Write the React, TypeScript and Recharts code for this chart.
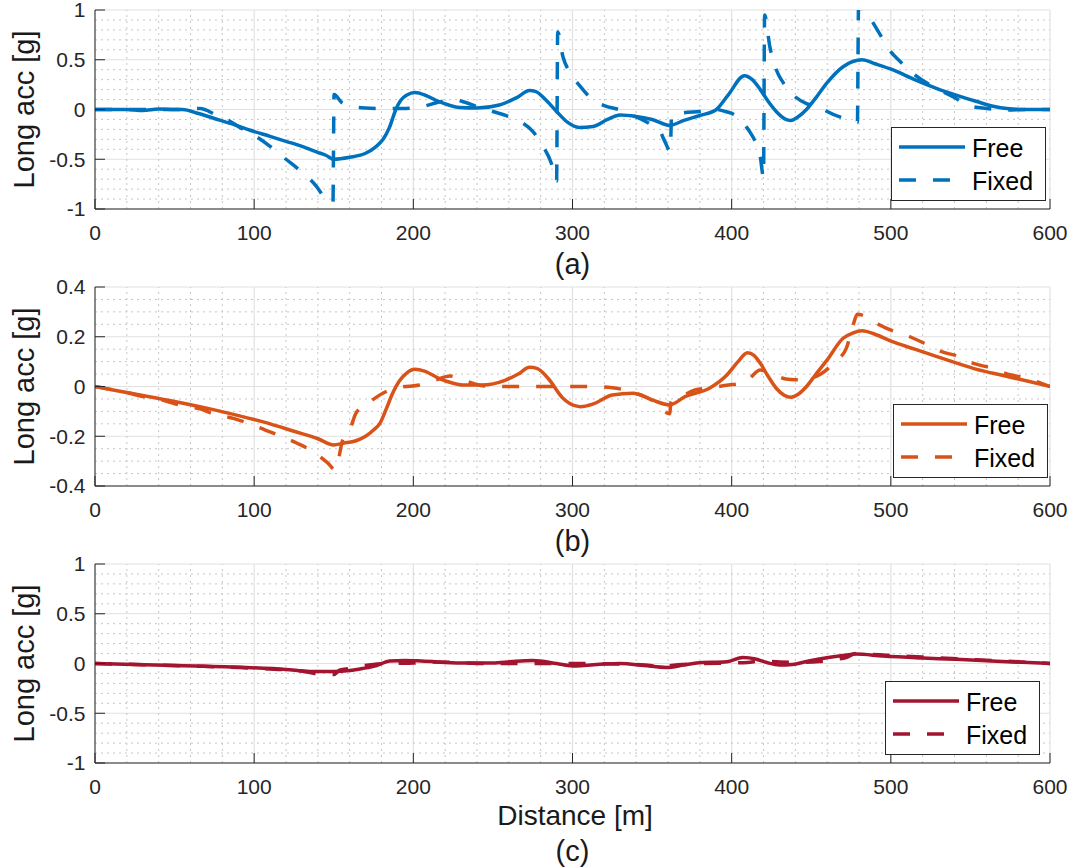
import React from 'react';
import { LineChart, Line, XAxis, YAxis, CartesianGrid, ReferenceLine, Legend } from 'recharts';

// ---------- tick labels / grid values ----------
const distanceTicks = [0, 100, 200, 300, 400, 500, 600];
const accTicksWide = [-1, -0.5, 0, 0.5, 1];
const accTicksNarrow = [-0.4, -0.2, 0, 0.2, 0.4];
const minorDistance = [20, 40, 60, 80, 120, 140, 160, 180, 220, 240, 260, 280, 320, 340, 360, 380, 420, 440, 460, 480, 520, 540, 560, 580];
const minorAccWide = [-0.9, -0.8, -0.7, -0.6, -0.4, -0.3, -0.2, -0.1, 0.1, 0.2, 0.3, 0.4, 0.6, 0.7, 0.8, 0.9];
const minorAccNarrow = [-0.35, -0.3, -0.25, -0.15, -0.1, -0.05, 0.05, 0.1, 0.15, 0.25, 0.3, 0.35];
const panelLabels = ['(a)', '(b)', '(c)'];
const seriesNames = ['Free', 'Fixed'];

// ---------- series: [distance m, long acc g] ----------
const freeA: [number, number][] = [
  [0, 0], [10, 0], [20, 0], [30, -0.01], [40, 0.005], [50, 0], [55, 0], [65, -0.04], [75, -0.09], [85, -0.14],
  [97, -0.206], [110, -0.27], [120, -0.32], [130, -0.37], [135, -0.4], [140, -0.43], [145, -0.46], [150, -0.5],
  [160, -0.48], [170, -0.44], [176, -0.38], [181, -0.3], [185, -0.18], [189, 0], [192, 0.09], [196, 0.146],
  [201, 0.17], [208, 0.14], [216, 0.08], [229, 0.02], [240, 0.015], [254, 0.045], [265, 0.12], [273, 0.19],
  [277, 0.18], [283, 0.1], [290, -0.02], [297, -0.13], [304, -0.18], [313, -0.17], [322, -0.1], [330, -0.055],
  [340, -0.07], [350, -0.1], [361, -0.16], [370, -0.11], [380, -0.06], [390, -0.005], [398, 0.15], [408, 0.34],
  [413, 0.3], [418, 0.2], [423, 0.08], [428, -0.02], [434, -0.1], [437, -0.11], [442, -0.07], [447, 0],
  [453, 0.12], [460, 0.27], [470, 0.43], [482, 0.5], [490, 0.46], [501, 0.4], [515, 0.3], [529, 0.21],
  [540, 0.15], [554, 0.08], [565, 0.03], [573, 0.01], [585, 0], [600, 0],
];
const fixedA: [number, number][] = [
  [0, 0], [20, 0], [40, 0], [55, 0], [66, 0.01], [76, -0.055], [85, -0.12], [93, -0.2], [100, -0.26],
  [110, -0.37], [120, -0.5], [130, -0.63], [139, -0.77], [145, -0.9], [149.5, -0.94], [150.2, 0.15],
  [155, 0.07], [162, 0.03], [170, 0.015], [180, 0.01], [195, 0.01], [206, 0.03], [215, 0.07], [225, 0.1],
  [233, 0.07], [240, 0.03], [250, -0.02], [258, -0.06], [267, -0.12], [275, -0.22], [281.5, -0.37],
  [286.7, -0.54], [290, -0.72], [290.7, 0.78], [294, 0.53], [298, 0.38], [304.5, 0.24], [313, 0.095],
  [320, 0.04], [330, -0.005], [338, -0.06], [346, -0.12], [351, -0.17], [355, -0.22], [358, -0.32],
  [361.5, -0.42], [362.2, -0.06], [369, -0.035], [380, -0.02], [390, 0], [396, -0.02], [402, -0.055],
  [409, -0.17], [412, -0.24], [415, -0.33], [418, -0.48], [420, -0.68], [420.7, 0.95], [424, 0.63],
  [428.8, 0.37], [432, 0.28], [436, 0.19], [447, 0.06], [455, 0.03], [460, -0.02], [474, -0.105],
  [479, -0.13], [479.7, 1.02], [484, 1.0], [487, 0.92], [493, 0.76], [499, 0.6], [506, 0.48], [514, 0.36],
  [529, 0.21], [540, 0.12], [548, 0.045], [560, 0.01], [573, -0.005], [585, 0], [600, 0],
];
const freeB: [number, number][] = [
  [0, 0], [25, -0.03], [50, -0.06], [75, -0.094], [97, -0.128], [110, -0.15], [125, -0.18], [140, -0.21],
  [150, -0.235], [156, -0.228], [164, -0.218], [170, -0.2], [175, -0.175], [179, -0.148], [183, -0.09],
  [187, -0.027], [191, 0.02], [195.6, 0.053], [201, 0.069], [207, 0.062], [216, 0.033], [224, 0.015],
  [231, 0.006], [243, 0.006], [258, 0.026], [266, 0.05], [273, 0.077], [278, 0.072], [285, 0.03],
  [294, -0.047], [302, -0.078], [305, -0.081], [313, -0.07], [325, -0.034], [338, -0.027], [350, -0.054],
  [361, -0.074], [371, -0.04], [386, -0.007], [397, 0.046], [404, 0.1], [410, 0.136], [414, 0.125],
  [418, 0.093], [423, 0.04], [428, -0.007], [433, -0.035], [437, -0.043], [442, -0.03], [447, 0],
  [453, 0.05], [460, 0.107], [470, 0.194], [476, 0.215], [482, 0.224], [490, 0.21], [501, 0.18],
  [515, 0.15], [529, 0.12], [541, 0.095], [554, 0.069], [570, 0.045], [585, 0.023], [600, 0],
];
const fixedB: [number, number][] = [
  [0, 0], [20, -0.025], [30, -0.04], [44, -0.057], [54, -0.076], [66, -0.09], [75, -0.112], [87, -0.128],
  [96, -0.147], [107, -0.175], [117, -0.2], [127, -0.228], [137, -0.262], [146, -0.306], [151, -0.335],
  [155.6, -0.215], [160, -0.175], [164, -0.107], [173, -0.06], [183, -0.02], [192, -0.003], [204, 0.006],
  [214, 0.026], [223, 0.042], [234, 0.02], [245, 0.002], [260, 0], [300, 0], [311, 0], [325, -0.005],
  [333, -0.014], [343, -0.034], [353, -0.067], [361, -0.11], [362, -0.06], [367, -0.046], [377, -0.014],
  [386, -0.006], [398, 0.006], [405, 0.012], [410, 0.026], [418, 0.066], [425, 0.053], [434, 0.03],
  [440, 0.027], [447, 0.03], [456, 0.05], [465, 0.1], [472, 0.153], [476, 0.24], [479, 0.29], [485, 0.28],
  [493, 0.247], [512, 0.2], [521, 0.174], [532, 0.14], [543, 0.12], [552, 0.093], [564, 0.073],
  [572, 0.053], [585, 0.033], [600, 0],
];
const freeC: [number, number][] = [
  [0, 0], [50, -0.02], [95, -0.04], [120, -0.06], [135, -0.08], [150, -0.08], [160, -0.07], [168, -0.05],
  [177, -0.02], [185, 0.025], [195, 0.03], [205, 0.025], [230, 0.005], [250, 0.005], [262, 0.02],
  [275, 0.03], [290, 0], [300, -0.025], [307, -0.02], [320, -0.005], [330, 0], [345, -0.02], [359, -0.04],
  [370, -0.015], [378, 0.005], [397, 0.018], [407, 0.06], [415, 0.045], [422, 0.01], [430, -0.015],
  [438, -0.01], [447, 0.02], [457, 0.05], [470, 0.08], [478, 0.095], [495, 0.075], [520, 0.055],
  [541, 0.042], [570, 0.02], [600, 0],
];
const fixedC: [number, number][] = [
  [0, 0], [30, -0.012], [60, -0.025], [90, -0.04], [110, -0.055], [131, -0.08], [138, -0.1], [145, -0.11],
  [150, -0.11], [154, -0.065], [160, -0.05], [166, -0.03], [175, -0.01], [185, 0], [200, 0.005],
  [212, 0.015], [225, 0.012], [240, 0], [270, 0], [300, 0], [330, -0.005], [345, -0.015], [360, -0.035],
  [362, -0.02], [375, -0.005], [398, 0.005], [410, 0.01], [418, 0.025], [430, 0.015], [440, 0.012],
  [455, 0.02], [465, 0.04], [472, 0.06], [478, 0.1], [485, 0.095], [500, 0.08], [520, 0.065],
  [545, 0.045], [570, 0.025], [600, 0],
];

const FONT = '"Liberation Sans", Arial, Helvetica, sans-serif';
const AXIS = '#262626';
const TICK_FS = 21;

type PanelProps = {
  top: number;
  free: [number, number][];
  fixed: [number, number][];
  color: string;
  yTicks: number[];
  yMinor: number[];
  legendLeft: number;
};

const toRows = (pts: [number, number][]) => pts.map(([d, a]) => ({ d, a }));

function makeLegend(color: string) {
  return () => (
    <div style={{ width: 155, height: 74, boxSizing: 'border-box', border: `1px solid ${AXIS}`, background: '#fff' }}>
      <svg width={153} height={72} style={{ display: 'block' }}>
        <line x1={7} x2={73} y1={19} y2={19} stroke={color} strokeWidth={3.5} />
        <line x1={7} x2={73} y1={52} y2={52} stroke={color} strokeWidth={3.5} strokeDasharray="17 17" />
        <text x={80} y={29} fontSize={25} fontFamily={FONT} fill="#000">{seriesNames[0]}</text>
        <text x={80} y={62} fontSize={25} fontFamily={FONT} fill="#000">{seriesNames[1]}</text>
      </svg>
    </div>
  );
}

// each chart svg starts 12px above its plot box so the top tick label has room
const HEAD = 22;

function Panel({ top, free, fixed, color, yTicks, yMinor, legendLeft }: PanelProps) {
  const yDomain: [number, number] = [yTicks[0], yTicks[yTicks.length - 1]];
  return (
    <div style={{ position: 'absolute', left: 0, top: top - (HEAD - 10), width: 1074, height: 280 + HEAD }}>
      <LineChart width={1074} height={280 + HEAD} margin={{ top: HEAD, right: 24, bottom: 41, left: 0 }} style={{ overflow: 'visible' }}>
        <CartesianGrid stroke="#e1e1e1" strokeWidth={1.2} />
        {minorDistance.map((v) => (
          <ReferenceLine key={'mx' + v} x={v} stroke="#c6c6c6" strokeWidth={1} strokeDasharray="2 4" />
        ))}
        {yMinor.map((v) => (
          <ReferenceLine key={'my' + v} y={v} stroke="#c6c6c6" strokeWidth={1} strokeDasharray="2 4" />
        ))}
        <XAxis
          dataKey="d"
          type="number"
          domain={[0, 600]}
          ticks={distanceTicks}
          interval={0}
          allowDataOverflow
          height={40}
          tickSize={-10}
          tickMargin={26}
          stroke={AXIS}
          fontSize={TICK_FS}
          fontFamily={FONT}
          tick={{ fill: AXIS, fontSize: TICK_FS, fontFamily: FONT }}
        />
        <XAxis
          xAxisId="top"
          orientation="top"
          type="number"
          domain={[0, 600]}
          ticks={distanceTicks}
          interval={0}
          allowDataOverflow
          height={0}
          tickSize={-10}
          tick={false}
          stroke={AXIS}
        />
        <YAxis
          type="number"
          domain={yDomain}
          ticks={yTicks}
          interval={0}
          allowDataOverflow
          width={95}
          tickSize={-10}
          tickMargin={19.5}
          stroke={AXIS}
          fontSize={TICK_FS}
          fontFamily={FONT}
          tick={{ fill: AXIS, fontSize: TICK_FS, fontFamily: FONT }}
        />
        <YAxis
          yAxisId="right"
          orientation="right"
          type="number"
          domain={yDomain}
          ticks={yTicks}
          interval={0}
          allowDataOverflow
          width={0}
          tickSize={-10}
          tick={false}
          stroke={AXIS}
        />
        <Line
          data={toRows(free)}
          dataKey="a"
          name={seriesNames[0]}
          type="monotone"
          stroke={color}
          strokeWidth={3.5}
          dot={false}
          activeDot={false}
          isAnimationActive={false}
        />
        <Line
          data={toRows(fixed)}
          dataKey="a"
          name={seriesNames[1]}
          type="monotone"
          stroke={color}
          strokeWidth={3.5}
          strokeDasharray="17 17"
          dot={false}
          activeDot={false}
          isAnimationActive={false}
        />
        <Legend
          layout="horizontal"
          align="center"
          verticalAlign="middle"
          content={makeLegend(color)}
          wrapperStyle={{ position: 'absolute', left: legendLeft, top: 117 + HEAD, width: 155, height: 74 }}
        />
      </LineChart>
    </div>
  );
}

export default function App() {
  const panelTops = [0, 277, 554];
  return (
    <div style={{ position: 'absolute', left: 0, top: 0, width: 1074, height: 868, background: '#fff', overflow: 'hidden' }}>
      <Panel top={panelTops[0]} free={freeA} fixed={fixedA} color="#0072BD" yTicks={accTicksWide} yMinor={minorAccWide} legendLeft={891} />
      <Panel top={panelTops[1]} free={freeB} fixed={fixedB} color="#D95319" yTicks={accTicksNarrow} yMinor={minorAccNarrow} legendLeft={893} />
      <Panel top={panelTops[2]} free={freeC} fixed={fixedC} color="#A2142F" yTicks={accTicksWide} yMinor={minorAccWide} legendLeft={885} />
      <svg width={1074} height={868} style={{ position: 'absolute', left: 0, top: 0, pointerEvents: 'none' }}>
        {panelTops.map((t, i) => (
          <g key={i} fontFamily={FONT} fill="#1a1a1a">
            <text x={33.5} y={t + 109.5} fontSize={29} textAnchor="middle" transform={`rotate(-90 33.5 ${t + 109.5})`}>
              Long acc [g]
            </text>
            <text x={572.5} y={i === 2 ? 861 : t + 274} fontSize={29} textAnchor="middle">
              {panelLabels[i]}
            </text>
          </g>
        ))}
        <text x={575} y={825} fontSize={28} textAnchor="middle" fontFamily={FONT} fill="#1a1a1a">
          Distance [m]
        </text>
      </svg>
    </div>
  );
}
